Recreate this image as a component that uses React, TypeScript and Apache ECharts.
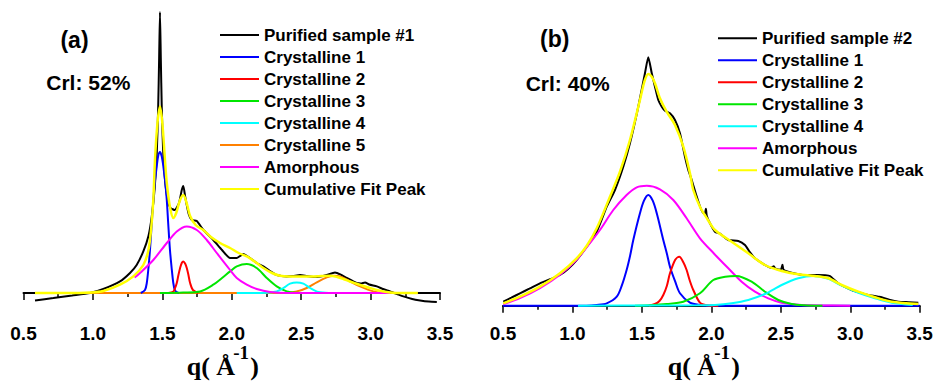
import React, { useEffect, useRef } from "react";
import * as echarts from "echarts";

// ---------- data (q in 1/Å, intensity in arbitrary units) ----------
const X_TICKS = [0.5, 1.0, 1.5, 2.0, 2.5, 3.0, 3.5];

const NAMES_A = [
  "Purified sample #1",
  "Crystalline 1",
  "Crystalline 2",
  "Crystalline 3",
  "Crystalline 4",
  "Crystalline 5",
  "Amorphous",
  "Cumulative Fit Peak",
];
const NAMES_B = [
  "Purified sample #2",
  "Crystalline 1",
  "Crystalline 2",
  "Crystalline 3",
  "Crystalline 4",
  "Amorphous",
  "Cumulative Fit Peak",
];

const A_SAMPLE = [
  [0.583, -7.4], [0.715, -5], [0.85, -2.5], [0.979, 0], [1.075, 4], [1.195, 11.6], [1.267, 20],
  [1.315, 28], [1.363, 41.6], [1.4, 57], [1.424, 76.6], [1.445, 105], [1.46, 140], [1.47, 185],
  [1.477, 235], [1.483, 281], [1.489, 235], [1.496, 185], [1.505, 145], [1.52, 112], [1.54, 92],
  [1.56, 85], [1.59, 83], [1.62, 90], [1.64, 103], [1.651, 107], [1.665, 96], [1.69, 79],
  [1.712, 73], [1.748, 72], [1.79, 64], [1.867, 53], [1.93, 43], [1.988, 35], [2.036, 35],
  [2.06, 37], [2.084, 39], [2.11, 37], [2.132, 35], [2.18, 30], [2.228, 26.6], [2.276, 22],
  [2.324, 18], [2.396, 16.6], [2.44, 17], [2.492, 18], [2.54, 17], [2.588, 16], [2.64, 16.5],
  [2.684, 18], [2.744, 20.6], [2.79, 18], [2.828, 15], [2.87, 12], [2.9, 10], [2.93, 9.5],
  [2.96, 10.6], [2.99, 8.5], [3.045, 6.6], [3.09, 4], [3.14, 1.6], [3.19, -1], [3.236, -3.4],
  [3.3, -6], [3.357, -7.4], [3.42, -8.5], [3.477, -9],
];
const A_CRYST1 = [
  [1.345, 0], [1.375, 3], [1.388, 10], [1.4, 25], [1.411, 43], [1.423, 68], [1.435, 93],
  [1.447, 112], [1.46, 127], [1.47, 137], [1.483, 141], [1.495, 137], [1.507, 127], [1.52, 112],
  [1.532, 93], [1.543, 68], [1.555, 43], [1.567, 25], [1.579, 10], [1.59, 3], [1.604, 1], [1.62, 0],
];
const A_CRYST2 = [
  [1.543, 0], [1.58, 1.5], [1.592, 5], [1.604, 10], [1.616, 18], [1.628, 25], [1.64, 30],
  [1.651, 31.6], [1.664, 29.5], [1.676, 25], [1.688, 18], [1.7, 10], [1.72, 3], [1.759, 0],
];
const A_CRYST3 = [
  [1.483, 0], [1.65, 0.5], [1.772, 1.6], [1.867, 8.3], [1.93, 15], [1.988, 21.6], [2.036, 26.6],
  [2.108, 29], [2.18, 25], [2.252, 15], [2.324, 6.6], [2.396, 1.6], [2.468, 0.3], [2.56, 0],
];
const A_CRYST4 = [
  [2.036, 0], [2.25, 0.3], [2.324, 1.6], [2.372, 5], [2.42, 9.3], [2.468, 10.6], [2.516, 9.3],
  [2.564, 5], [2.624, 1], [2.7, 0.1], [2.876, 0],
];
const A_CRYST5 = [
  [0.583, 0], [2.3, 0], [2.4, 0.3], [2.468, 1.6], [2.54, 5], [2.612, 10.6], [2.684, 15.6],
  [2.732, 17.3], [2.78, 16.6], [2.852, 11.6], [2.924, 6.6], [3.02, 1.6], [3.1, 0.2], [3.34, 0],
];
const A_AMORPH = [
  [1.3, 15.5], [1.352, 21.6], [1.435, 33], [1.532, 50], [1.604, 61.6], [1.676, 66.6], [1.748, 63],
  [1.82, 53], [1.892, 40], [1.988, 23], [2.036, 15], [2.108, 8.3], [2.18, 4], [2.276, 1],
  [2.396, 0], [3.14, 0],
];
const A_CUMUL = [
  [0.583, 0], [0.8, 0], [0.979, 0.5], [1.075, 2], [1.195, 8.3], [1.291, 16.6], [1.363, 28],
  [1.4, 43], [1.42, 65], [1.435, 93], [1.447, 133], [1.465, 170], [1.483, 186.6], [1.5, 170],
  [1.519, 133], [1.532, 110], [1.555, 86], [1.579, 75], [1.6, 80], [1.625, 92], [1.651, 98],
  [1.675, 90], [1.7, 77], [1.74, 68], [1.795, 63], [1.85, 56], [1.916, 50], [1.988, 45],
  [2.05, 40], [2.108, 36.6], [2.17, 31], [2.228, 25], [2.29, 20], [2.348, 17.3], [2.41, 16.5],
  [2.468, 16.6], [2.528, 16.5], [2.588, 16.6], [2.648, 17], [2.708, 17.3], [2.76, 16],
  [2.804, 14], [2.85, 11.5], [2.9, 9.3], [2.95, 7], [2.996, 5], [3.045, 3], [3.092, 1.6],
  [3.14, 0.6], [3.19, 0], [3.34, 0],
];

const B_SAMPLE = [
  [0.502, 4], [0.56, 8], [0.622, 12.4], [0.69, 17], [0.766, 22.4], [0.84, 26.5], [0.91, 30.7],
  [0.97, 37], [1.03, 45.7], [1.103, 59], [1.175, 74], [1.247, 99], [1.306, 115.7], [1.366, 139],
  [1.414, 162.4], [1.474, 199], [1.522, 232.4], [1.546, 248.4], [1.571, 232.4], [1.594, 219],
  [1.618, 205.7], [1.643, 199], [1.666, 195], [1.702, 192.4], [1.738, 185.7], [1.774, 172.4],
  [1.81, 149], [1.834, 135.7], [1.86, 125], [1.895, 109], [1.942, 92.4], [1.955, 93],
  [1.961, 97], [1.967, 90], [1.99, 82.4], [2.026, 74], [2.062, 72], [2.122, 65.7],
  [2.194, 64.7], [2.242, 60.7], [2.28, 53], [2.314, 47.4], [2.386, 40.7], [2.43, 38],
  [2.45, 39.5], [2.458, 37.4], [2.5, 36], [2.512, 41], [2.52, 36], [2.578, 33], [2.674, 30.7],
  [2.77, 30.7], [2.82, 30.5], [2.854, 29.7], [2.914, 22.4], [3.01, 15.7], [3.07, 13],
  [3.13, 10.7], [3.2, 9], [3.226, 8.4], [3.28, 6], [3.346, 4], [3.42, 3.5], [3.49, 3],
];
const B_CRYST1 = [
  [0.5, 0], [1.1, 0], [1.175, 0.7], [1.247, 2.4], [1.319, 9], [1.355, 20], [1.39, 35.7],
  [1.415, 50], [1.438, 65.7], [1.486, 92.4], [1.515, 105], [1.546, 110.7], [1.578, 105],
  [1.607, 92.4], [1.654, 65.7], [1.68, 52], [1.702, 39], [1.74, 24], [1.774, 12.4], [1.846, 3],
  [1.918, 0.7], [2.0, 0], [3.5, 0],
];
const B_CRYST2 = [
  [1.55, 0], [1.594, 1.7], [1.628, 5], [1.654, 10.7], [1.68, 20], [1.702, 32.4], [1.74, 46],
  [1.769, 49], [1.8, 43], [1.822, 35.7], [1.845, 25], [1.87, 15.7], [1.918, 3], [1.966, 0.5],
  [2.05, 0],
];
const B_CRYST3 = [
  [1.45, 0], [1.56, 0.5], [1.678, 1.7], [1.798, 4], [1.918, 12.4], [2.014, 25.7], [2.1, 29],
  [2.18, 29.7], [2.29, 24], [2.386, 14], [2.482, 5.7], [2.578, 1.7], [2.67, 0.5], [2.8, 0],
];
const B_CRYST4 = [
  [1.04, 0], [1.6, 0.2], [1.9, 0.4], [2.026, 0.7], [2.146, 2.4], [2.266, 5.7], [2.386, 11.7],
  [2.506, 20.7], [2.626, 27.4], [2.734, 29.7], [2.842, 27], [2.938, 20], [3.058, 13],
  [3.178, 7.5], [3.298, 3], [3.45, 0.8],
];
const B_AMORPH = [
  [0.502, 1.5], [0.622, 7.5], [0.766, 17.5], [0.91, 31], [1.03, 46], [1.103, 58.5],
  [1.198, 75.7], [1.294, 95.7], [1.39, 110.7], [1.463, 118.4], [1.535, 120], [1.63, 116.4],
  [1.726, 105.7], [1.822, 87.4], [1.918, 67.4], [2.02, 52], [2.122, 37.4], [2.218, 24],
  [2.314, 14], [2.41, 7.4], [2.506, 3], [2.626, 1], [2.77, 0.3], [3.0, 0],
];
const B_CUMUL = [
  [0.502, 2.4], [0.622, 9], [0.766, 19], [0.91, 32.4], [1.03, 47.4], [1.103, 60], [1.175, 77.4],
  [1.27, 109], [1.342, 134], [1.414, 165.7], [1.486, 205.7], [1.52, 225], [1.546, 231.7],
  [1.571, 229], [1.594, 222.4], [1.63, 207.4], [1.678, 194], [1.738, 180.7], [1.798, 159],
  [1.846, 132.4], [1.87, 115.7], [1.918, 99], [1.97, 87], [2.026, 75.7], [2.146, 64],
  [2.266, 52.4], [2.386, 40.7], [2.506, 34.7], [2.626, 31.4], [2.746, 29.7], [2.842, 27.4],
  [2.938, 20.7], [3.058, 14], [3.178, 8.4], [3.298, 4], [3.49, 1.7],
];

const COLORS: Record<string, string> = {
  "Purified sample #1": "#000000",
  "Purified sample #2": "#000000",
  "Crystalline 1": "#0000ff",
  "Crystalline 2": "#ff0000",
  "Crystalline 3": "#00e600",
  "Crystalline 4": "#00ffff",
  "Crystalline 5": "#ff8000",
  Amorphous: "#ff00ff",
  "Cumulative Fit Peak": "#ffff00",
};

const SANS = "'Liberation Sans', Arial, sans-serif";
const SERIF = "'Liberation Serif', 'Times New Roman', serif";

function line(name: string, data: number[][], idx: number, width = 2, smooth: number = 0.3) {
  return {
    type: "line",
    name,
    data,
    xAxisIndex: idx,
    yAxisIndex: idx,
    showSymbol: false,
    symbol: "none",
    smooth,
    color: COLORS[name],
    lineStyle: { color: COLORS[name], width },
    itemStyle: { color: COLORS[name] },
    emphasis: { disabled: true },
    silent: true,
  };
}

function xAxis(idx: number) {
  return {
    type: "value",
    gridIndex: idx,
    min: X_TICKS[0],
    max: X_TICKS[X_TICKS.length - 1],
    interval: X_TICKS[1] - X_TICKS[0],
    splitLine: { show: false },
    axisLine: { show: true, lineStyle: { color: "#000", width: 2 } },
    axisTick: { show: true, length: 7, lineStyle: { color: "#000", width: 1.5 } },
    minorTick: { show: true, splitNumber: 2, length: 4, lineStyle: { color: "#000", width: 1.5 } },
    minorSplitLine: { show: false },
    axisLabel: {
      color: "#000",
      fontSize: 19,
      fontWeight: "bold",
      fontFamily: SANS,
      margin: 11,
      showMinLabel: true,
      showMaxLabel: true,
      formatter: (v: number) => v.toFixed(1),
    },
  };
}

function legend(names: string[], left: number, top: number) {
  return {
    orient: "vertical",
    left,
    top,
    data: names,
    icon: "rect",
    itemWidth: 39,
    itemHeight: 2,
    itemGap: 2,
    selectedMode: false,
    padding: 0,
    textStyle: {
      color: "#000",
      fontSize: 17,
      fontWeight: "bold",
      fontFamily: SANS,
      lineHeight: 20,
    },
  };
}

function titleTexts(x0: number) {
  return [
    {
      type: "text",
      left: x0,
      top: 353,
      style: { text: "q( Å", font: `bold 26px ${SERIF}`, fill: "#000" },
    },
    {
      type: "text",
      left: x0 + 46.5,
      top: 343,
      style: { text: "-1", font: `bold 19px ${SERIF}`, fill: "#000" },
    },
    {
      type: "text",
      left: x0 + 63.5,
      top: 353,
      style: { text: ")", font: `bold 26px ${SERIF}`, fill: "#000" },
    },
  ];
}

function label(text: string, cx: number, cy: number, size: number) {
  return {
    type: "text",
    x: cx,
    y: cy,
    style: {
      text,
      font: `bold ${size}px ${SANS}`,
      fill: "#000",
      align: "center",
      verticalAlign: "middle",
    },
  };
}

export default function App() {
  const ref = useRef<HTMLDivElement>(null);
  useEffect(() => {
    if (!ref.current) return;
    const chart = echarts.init(ref.current, undefined, { renderer: "svg" });
    const option = {
      animation: false,
      backgroundColor: "#ffffff",
      grid: [
        { left: 23.5, top: 5, width: 416.5, height: 308, containLabel: false },
        { left: 503, top: 5, width: 416.7, height: 308, containLabel: false },
      ],
      xAxis: [xAxis(0), xAxis(1)],
      yAxis: [
        { type: "value", gridIndex: 0, min: -20, max: 288, show: false, splitLine: { show: false } },
        { type: "value", gridIndex: 1, min: -7.3, max: 300.7, show: false, splitLine: { show: false } },
      ],
      legend: [legend(NAMES_A, 220, 25), legend(NAMES_B, 718, 28.3)],
      series: [
        line(NAMES_A[0], A_SAMPLE, 0, 2, 0.2),
        line(NAMES_A[5], A_CRYST5, 0),
        line(NAMES_A[1], A_CRYST1, 0),
        line(NAMES_A[2], A_CRYST2, 0),
        line(NAMES_A[3], A_CRYST3, 0),
        line(NAMES_A[4], A_CRYST4, 0),
        line(NAMES_A[6], A_AMORPH, 0),
        line(NAMES_A[7], A_CUMUL, 0, 2.5),
        line(NAMES_B[0], B_SAMPLE, 1, 2, 0.2),
        line(NAMES_B[1], B_CRYST1, 1),
        line(NAMES_B[5], B_AMORPH, 1),
        line(NAMES_B[2], B_CRYST2, 1),
        line(NAMES_B[3], B_CRYST3, 1),
        line(NAMES_B[4], B_CRYST4, 1),
        line(NAMES_B[6], B_CUMUL, 1, 2.5),
      ],
      graphic: [
        label("(a)", 74.5, 40, 23),
        label("Crl: 52%", 88.3, 82.7, 21),
        label("(b)", 554.7, 39.3, 23),
        label("Crl: 40%", 567.7, 83.3, 21),
        ...titleTexts(186.7),
        ...titleTexts(667.7),
      ],
    };
    chart.setOption(option as any);
    return () => chart.dispose();
  }, []);
  return (
    <div
      ref={ref}
      style={{ position: "absolute", left: 0, top: 0, width: 936, height: 381, background: "#fff" }}
    />
  );
}
